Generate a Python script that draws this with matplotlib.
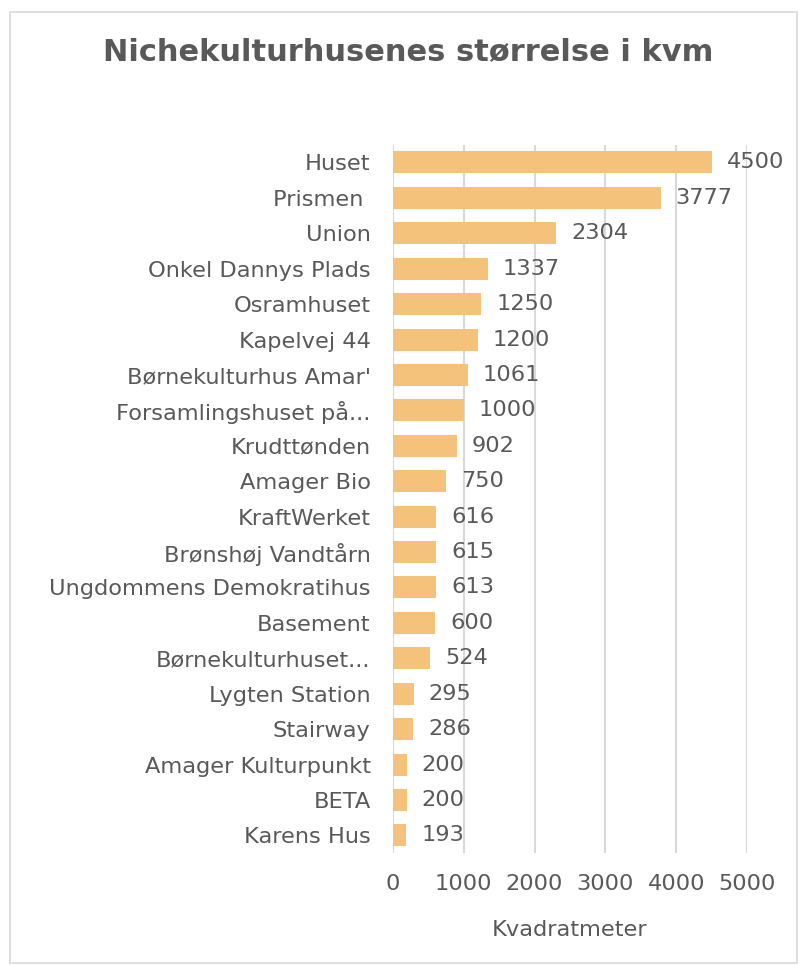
import matplotlib
matplotlib.use("Agg")
import matplotlib.pyplot as plt
from matplotlib.patches import Rectangle

categories = ["Huset", "Prismen ", "Union", "Onkel Dannys Plads", "Osramhuset",
              "Kapelvej 44", "Børnekulturhus Amar'", "Forsamlingshuset på...",
              "Krudttønden", "Amager Bio", "KraftWerket", "Brønshøj Vandtårn",
              "Ungdommens Demokratihus", "Basement", "Børnekulturhuset...",
              "Lygten Station", "Stairway", "Amager Kulturpunkt", "BETA", "Karens Hus"]
values = [4500, 3777, 2304, 1337, 1250, 1200, 1061, 1000, 902, 750,
          616, 615, 613, 600, 524, 295, 286, 200, 200, 193]
x_ticks = [0, 1000, 2000, 3000, 4000, 5000]

plt.rcParams['font.family'] = ['DejaVu Sans']
txt = '#595959'
fs = 16.2

fig = plt.figure(figsize=(8, 9.65), dpi=100)
ax = fig.add_axes([0.491, 0.116, 0.443, 0.734])

y = list(range(len(categories)))
bars = ax.barh(y, values, height=0.62, color='#F4C27A', zorder=3)
ax.set_ylim(len(categories) - 0.5, -0.5)
ax.set_xlim(0, 5000)
ax.set_xticks(x_ticks)
ax.set_xticklabels([str(t) for t in x_ticks])
ax.set_yticks(y)
ax.set_yticklabels(categories)
ax.tick_params(axis='both', length=0, colors=txt, labelsize=fs)
ax.tick_params(axis='y', pad=16)
ax.tick_params(axis='x', pad=15)
for s in ax.spines.values():
    s.set_visible(False)
ax.grid(axis='x', color='#D9D9D9', linewidth=1.5, zorder=0)
ax.set_axisbelow(True)

for b, v in zip(bars, values):
    ax.text(b.get_width() + 210, b.get_y() + b.get_height() / 2, str(v),
            va='center', ha='left', fontsize=fs, color=txt)

ax.set_xlabel("Kvadratmeter", fontsize=fs, color=txt, labelpad=19)
fig.text(0.51, 0.947, "Nichekulturhusenes størrelse i kvm", ha='center', va='center',
         fontsize=22, color=txt, fontweight='semibold')

fig.patches.append(Rectangle((0.0125, 0.002), 0.984, 0.986, transform=fig.transFigure,
                             fill=False, edgecolor='#D9D9D9', linewidth=1.2))

fig.savefig("out.png", dpi=100)
